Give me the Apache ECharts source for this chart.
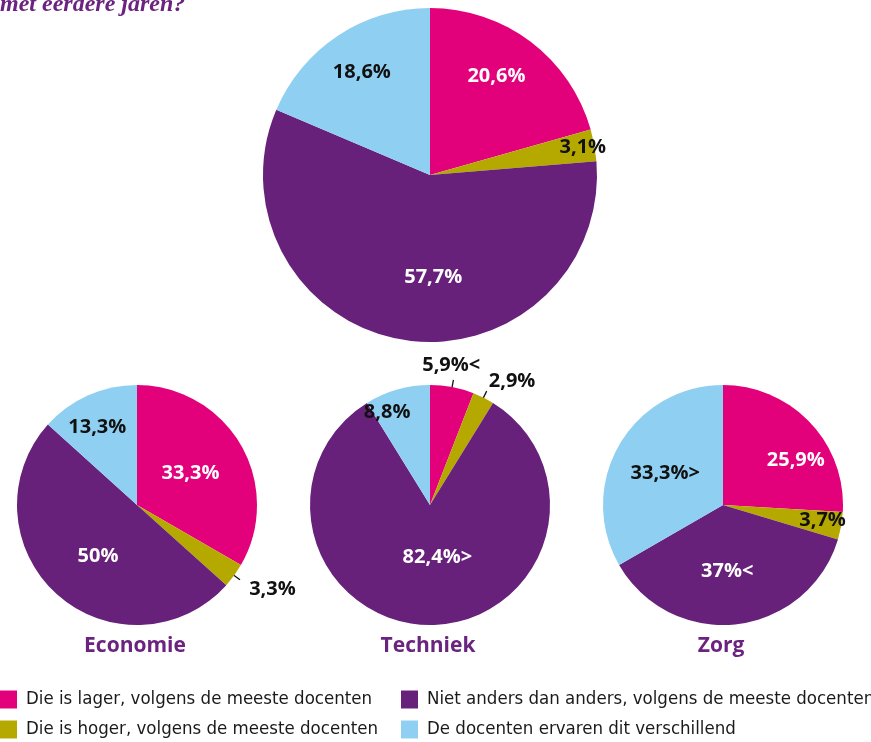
<!DOCTYPE html>
<html>
<head>
<meta charset="utf-8">
<script src="https://cdn.jsdelivr.net/npm/echarts@6/dist/echarts.min.js"></script>
<style>
  html, body { margin: 0; padding: 0; background: #fff; }
  #main { width: 871px; height: 742px; }
</style>
</head>
<body>
<div id="main"></div>
<script>
  // antwoordcategorieen (legenda)
  const categories = [
    'Die is lager, volgens de meeste docenten',
    'Die is hoger, volgens de meeste docenten',
    'Niet anders dan anders, volgens de meeste docenten',
    'De docenten ervaren dit verschillend'
  ];
  // percentages per taart
  const totaal   = [20.6, 3.1, 57.7, 18.6];
  const economie = [33.3, 3.3, 50, 13.3];
  const techniek = [5.9, 2.9, 82.4, 8.8];
  const zorg     = [25.9, 3.7, 37, 33.3];
  // < en > tekens achter de percentages
  const totaalMarks   = ['', '', '', ''];
  const economieMarks = ['', '', '', ''];
  const techniekMarks = ['<', '', '>', ''];
  const zorgMarks     = ['', '', '<', '>'];
  const sectorNames = ['Economie', 'Techniek', 'Zorg'];

  const colors = ['#e3007b', '#b5a900', '#68217a', '#8fd0f2'];
  const labelColors = ['#fff', '#111', '#fff', '#111'];
  const purple = '#6b2380';

  const values = [totaal, economie, techniek, zorg];
  const marks = [totaalMarks, economieMarks, techniekMarks, zorgMarks];

  // opmaak: middelpunt en straal van elke taart
  const centers = [[430, 175], [137, 505], [430, 505], [723, 505]];
  const radii = [167, 120, 120, 120];
  // plaats van het label: [fractie van straal, hoekverschuiving, buiten de taart]
  const labelPlace = [
    [[0.71, -3], [0.93, 0], [0.61, -11], [0.74, 0]],
    [[0.52, -1], [1.33, -4, true], [0.54, -5], [0.73, -3]],
    [[1.18, -2, true], [1.24, 7, true], [0.44, -8], [0.85, -9]],
    [[0.71, 12], [0.84, -1], [0.55, 3], [0.55, -1]]
  ];

  function fmt(v) {
    return String(v).replace('.', ',') + '%';
  }

  function placeLabel(params) {
    let k = params.seriesIndex, i = params.dataIndex;
    let vals = values[k];
    let total = vals.reduce((a, b) => a + b, 0);
    let before = 0;
    for (let j = 0; j < i; j++) before += vals[j];
    let mid = (before + vals[i] / 2) / total * 360;
    let c = centers[k], R = radii[k];
    let pt = (a, r) => [c[0] + r * Math.sin(a * Math.PI / 180), c[1] - r * Math.cos(a * Math.PI / 180)];
    let place = labelPlace[k][i];
    let p = pt(mid + place[1], place[0] * R);
    let out = { x: p[0], y: p[1], align: 'center', verticalAlign: 'middle' };
    if (place[2]) {
      out.labelLinePoints = [pt(mid, 0.88 * R), pt(mid, 1.06 * R), pt(mid, 1.06 * R)];
    }
    return out;
  }

  let series = values.map((vals, k) => ({
    type: 'pie',
    center: centers[k],
    radius: radii[k],
    startAngle: 90,
    clockwise: true,
    avoidLabelOverlap: false,
    animation: false,
    itemStyle: { borderWidth: 0 },
    emphasis: { disabled: true },
    labelLayout: placeLabel,
    data: vals.map((v, i) => {
      let outside = labelPlace[k][i][2];
      return {
        name: categories[i],
        value: v,
        label: {
          show: true,
          position: outside ? 'outside' : 'inside',
          formatter: fmt(v) + marks[k][i],
          color: outside ? '#111' : labelColors[i],
          fontFamily: 'Open Sans',
          fontWeight: 'bold',
          fontSize: 20
        },
        labelLine: {
          show: !!outside,
          length: 6,
          length2: 0,
          lineStyle: { color: '#111', width: 1.3 }
        }
      };
    })
  }));

  let titles = [{
    text: 'met eerdere jaren?',
    left: 0,
    top: -7,
    padding: 0,
    textStyle: {
      fontFamily: 'Liberation Serif',
      fontStyle: 'italic',
      fontWeight: 'bold',
      fontSize: 24,
      color: purple
    }
  }];
  sectorNames.forEach((name, k) => {
    titles.push({
      text: name,
      left: centers[k + 1][0] - 2,
      top: 636,
      padding: 0,
      textAlign: 'center',
      textStyle: {
        fontFamily: 'Open Sans',
        fontWeight: 'bold',
        fontSize: 21,
        color: purple
      }
    });
  });

  let legendText = {
    fontFamily: 'DejaVu Sans Condensed',
    fontSize: 18.5,
    color: '#1a1a1a',
    padding: [0, 0, 0, 4]
  };

  let myChart = echarts.init(document.getElementById('main'));
  let option = {
    animation: false,
    color: colors,
    title: titles,
    legend: [
      {
        orient: 'vertical', left: 0, top: 690, padding: 0,
        itemWidth: 17, itemHeight: 18, itemGap: 11, icon: 'rect',
        selectedMode: false,
        data: [categories[0], categories[1]],
        textStyle: legendText
      },
      {
        orient: 'vertical', left: 401, top: 690, padding: 0,
        itemWidth: 17, itemHeight: 18, itemGap: 11, icon: 'rect',
        selectedMode: false,
        data: [categories[2], categories[3]],
        textStyle: legendText
      }
    ],
    series: series
  };
  myChart.setOption(option);
</script>
</body>
</html>
